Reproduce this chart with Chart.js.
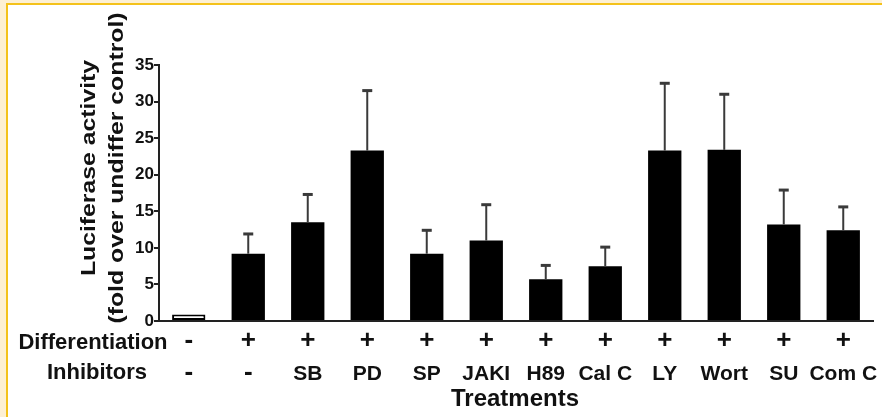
<!DOCTYPE html>
<html>
<head>
<meta charset="utf-8">
<script src="https://cdn.jsdelivr.net/npm/chart.js@4.4.1/dist/chart.umd.min.js"></script>
<style>
  html, body { margin: 0; padding: 0; }
  body { width: 882px; height: 417px; background: #fdf0d3; position: relative; overflow: hidden; }
  #frame { position: absolute; left: 6px; top: 3px; width: 876px; height: 414px; background: #fff;
           border-top: 2px solid #f4c21b; border-left: 2px solid #f4c21b; }
  #wrap { position: absolute; left: 0; top: 0; width: 882px; height: 417px; }
</style>
</head>
<body>
<div id="frame"></div>
<div id="wrap"><canvas id="chart"></canvas></div>
<script>
// chart data
const categories = ['Control', 'Diff', 'SB', 'PD', 'SP', 'JAKI', 'H89', 'Cal C', 'LY', 'Wort', 'SU', 'Com C'];
const differentiation = ['-', '+', '+', '+', '+', '+', '+', '+', '+', '+', '+', '+'];
const inhibitors = ['-', '-', 'SB', 'PD', 'SP', 'JAKI', 'H89', 'Cal C', 'LY', 'Wort', 'SU', 'Com C'];
const activity = [0.9, 9.2, 13.5, 23.3, 9.2, 11.0, 5.7, 7.5, 23.3, 23.4, 13.2, 12.4];
const errorUp = [0, 2.7, 3.8, 8.2, 3.2, 4.9, 1.9, 2.6, 9.2, 7.6, 4.7, 3.2];
const yTitle = ['Luciferase activity', '(fold over undiffer control)'];
const rowTitles = ['Differentiation', 'Inhibitors'];
const xTitle = 'Treatments';

const FONT = "'Liberation Sans', Arial, Helvetica, sans-serif";

// Function to draw the upward error bars
const errorBars = {
  id: 'errorBars',
  afterDatasetsDraw(chart) {
    const ctx = chart.ctx;
    const y = chart.scales.y;
    const meta = chart.getDatasetMeta(0);
    ctx.save();
    ctx.strokeStyle = '#3a3a3a';
    meta.data.forEach((bar, i) => {
      if (!errorUp[i]) return;
      const top = y.getPixelForValue(activity[i] + errorUp[i]);
      const base = y.getPixelForValue(activity[i]);
      ctx.lineWidth = 2;
      ctx.beginPath();
      ctx.moveTo(bar.x, base);
      ctx.lineTo(bar.x, top);
      ctx.stroke();
      ctx.lineWidth = 3;
      ctx.beginPath();
      ctx.moveTo(bar.x - 5, top);
      ctx.lineTo(bar.x + 5, top);
      ctx.stroke();
    });
    ctx.restore();
  }
};

// Function to draw the text rows under the axis and the axis titles
const labelRows = {
  id: 'labelRows',
  afterDraw(chart) {
    const ctx = chart.ctx;
    const x = chart.scales.x;
    const area = chart.chartArea;
    ctx.save();
    ctx.fillStyle = '#111';
    ctx.textAlign = 'center';
    ctx.textBaseline = 'middle';

    ctx.font = 'bold 26px ' + FONT;
    differentiation.forEach((s, i) => {
      ctx.fillText(s, x.getPixelForValue(i), area.bottom + 20);
    });
    ctx.font = 'bold 21px ' + FONT;
    inhibitors.forEach((s, i) => {
      const lbl = s === '-' ? null : s;
      if (lbl) ctx.fillText(lbl, x.getPixelForValue(i), area.bottom + 53);
    });
    ctx.font = 'bold 26px ' + FONT;
    inhibitors.forEach((s, i) => {
      if (s === '-') ctx.fillText(s, x.getPixelForValue(i), area.bottom + 52);
    });

    ctx.font = 'bold 22px ' + FONT;
    ctx.fillText(rowTitles[0], 93, area.bottom + 22);
    ctx.fillText(rowTitles[1], 97, area.bottom + 52);

    ctx.font = 'bold 24px ' + FONT;
    ctx.fillText(xTitle, (area.left + area.right) / 2 - 1, area.bottom + 78);

    // rotated y title, two lines
    ctx.font = 'bold 21px ' + FONT;
    ctx.textBaseline = 'alphabetic';
    const midY = 168;
    [95, 123].forEach((bx, k) => {
      ctx.save();
      ctx.translate(bx, midY);
      ctx.rotate(-Math.PI / 2);
      ctx.scale(1.18, 1);
      ctx.fillText(yTitle[k], 0, 0);
      ctx.restore();
    });
    ctx.restore();
  }
};

const data = {
  labels: categories,
  datasets: [{
    data: activity,
    backgroundColor: activity.map((v, i) => i === 0 ? '#ffffff' : '#000000'),
    borderColor: '#000000',
    borderWidth: activity.map((v, i) => i === 0 ? 2 : 0),
    borderSkipped: false,
    categoryPercentage: 1.0,
    barPercentage: 0.56
  }]
};

const config = {
  type: 'bar',
  data: data,
  options: {
    responsive: false,
    animation: false,
    layout: { padding: { top: 65, right: 9, bottom: 0, left: 0 } },
    plugins: {
      legend: { display: false },
      tooltip: { enabled: false },
      title: { display: false }
    },
    scales: {
      x: {
        afterFit(scale) { scale.height = 96; },
        grid: { display: false },
        border: { display: true, color: '#222', width: 2 },
        ticks: { display: false }
      },
      y: {
        min: 0,
        max: 35,
        afterFit(scale) { scale.width = 159; },
        grid: { drawOnChartArea: false, tickLength: 5, color: '#222', lineWidth: 2 },
        border: { display: true, color: '#222', width: 2 },
        ticks: {
          stepSize: 5,
          padding: 0,
          color: '#111',
          font: { family: FONT, size: 17, weight: 'bold' }
        }
      }
    }
  },
  plugins: [errorBars, labelRows]
};

const canvas = document.getElementById('chart');
canvas.width = 882;
canvas.height = 417;
new Chart(canvas, config);
</script>
</body>
</html>
